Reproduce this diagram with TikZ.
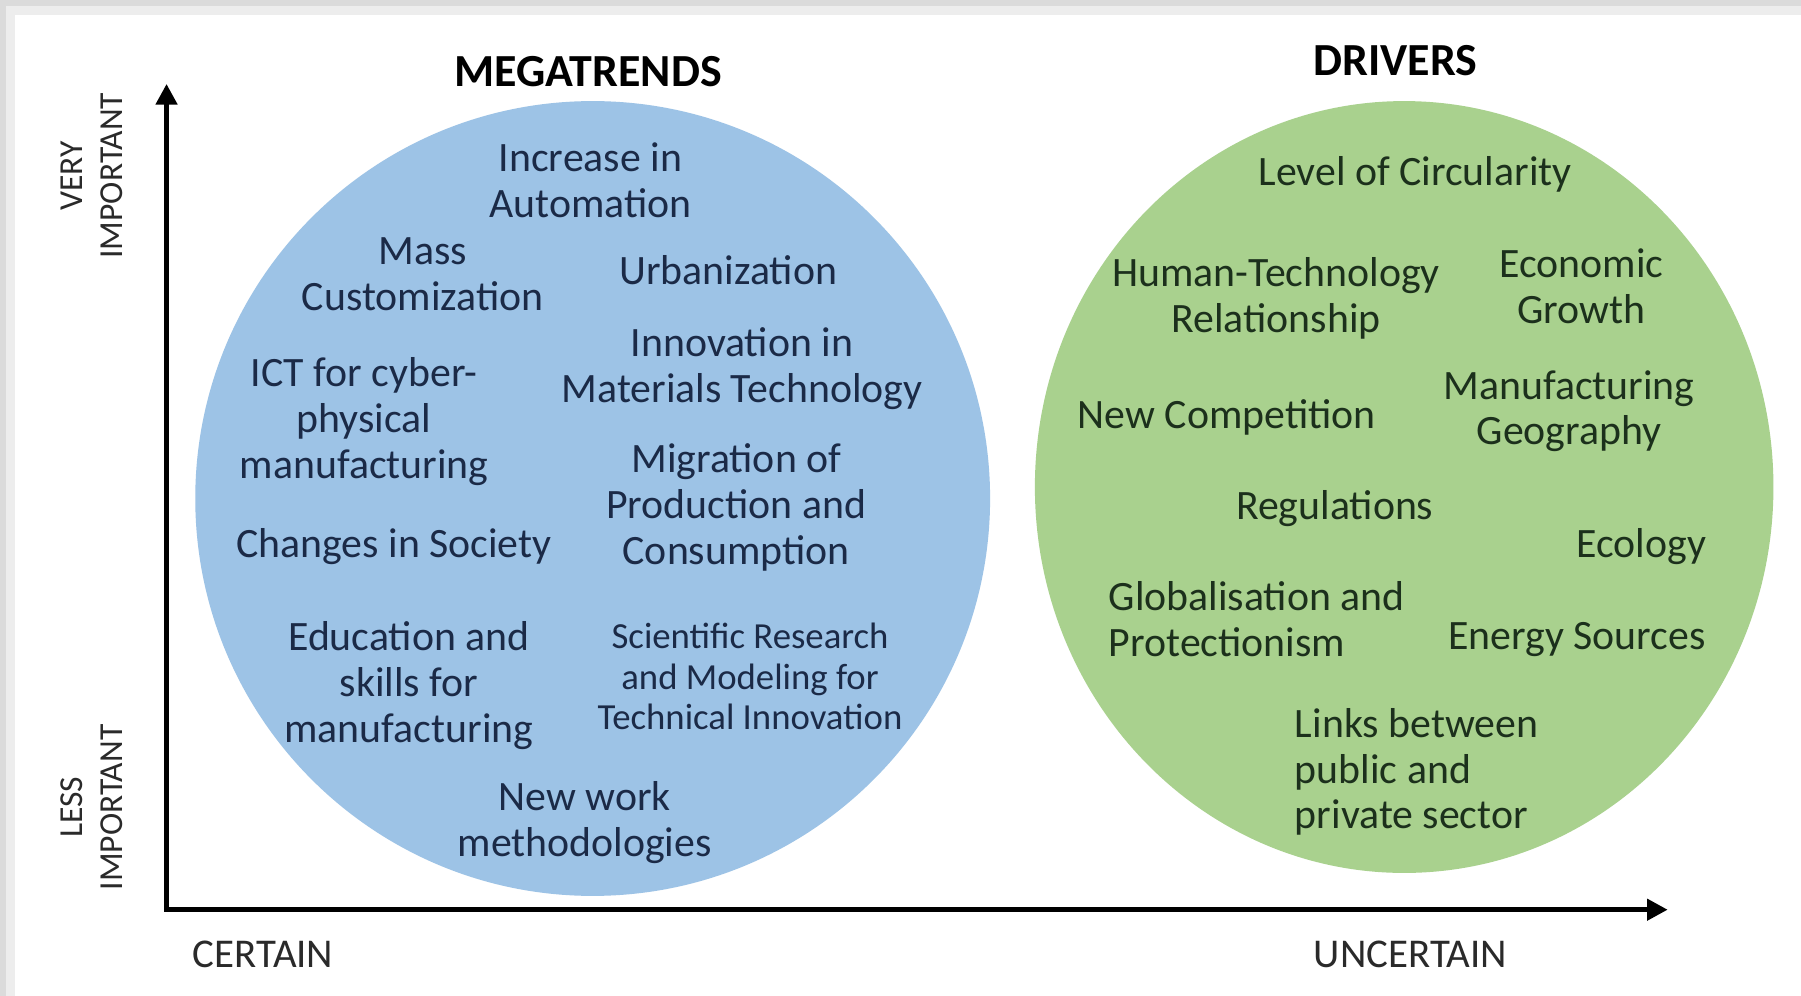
\documentclass[tikz,border=0pt]{standalone}
\usepackage{fontspec}
\setmainfont{Carlito}
\usetikzlibrary{arrows.meta,shapes.geometric}
\definecolor{megablue}{HTML}{9DC3E6}
\definecolor{drivgreen}{HTML}{A9D18E}
\definecolor{megatext}{HTML}{1B2A47}
\definecolor{drivtext}{HTML}{1C301C}
\definecolor{axistext}{HTML}{2A2A2A}
\begin{document}
\begin{tikzpicture}[x=0.5pt,y=-0.5pt,
    trend/.style={align=center,inner sep=0pt,text=megatext,font=\fontsize{18.2}{20}\selectfont},
    trendsmall/.style={trend,font=\fontsize{16}{17.5}\selectfont},
    driver/.style={align=center,inner sep=0pt,text=drivtext,font=\fontsize{18.2}{20}\selectfont},
    title/.style={inner sep=0pt,font=\bfseries\fontsize{20}{24}\selectfont},
    axislab/.style={inner sep=0pt,text=axistext,font=\fontsize{17.8}{20}\selectfont},
    sidelab/.style={inner sep=0pt,align=center,rotate=90,text=axistext,font=\fontsize{14.6}{17.5}\selectfont},
    axisline/.style={line width=2.4pt,{Triangle[length=9pt,width=9pt]}-{Triangle[length=9pt,width=9pt]}}]
    \useasboundingbox (0,0) rectangle (1568,867);
    % card with shadow
    \fill[black!14] (0,0) rectangle (1568,867);
    \fill[black!7] (5,5) rectangle (1568,867);
    \fill[white] (13,13) rectangle (1568,867);

    \node (MC) at (516,434) [circle,fill=megablue,minimum size=346pt,inner sep=0pt]{};
    \node (DC) at (1222.5,424) [ellipse,fill=drivgreen,minimum width=321.5pt,minimum height=336pt,inner sep=0pt]{};

    % axes
    \coordinate (O) at (145,792);
    \coordinate (Ytop) at (145,73);
    \coordinate (Xend) at (1452,792);
    \draw [axisline] (Ytop) -- (O) -- (Xend);

    \node (MT) at (512,62) [title]{MEGATRENDS};
    \node (DT) at (1215,53) [title]{DRIVERS};
    \node (VI) at (80,153) [sidelab]{VERY\\IMPORTANT};
    \node (LI) at (80,703) [sidelab]{LESS\\IMPORTANT};
    \node (CE) at (229,831) [axislab]{CERTAIN};
    \node (UN) at (1228,831) [axislab]{UNCERTAIN};

    % megatrends
    \node (M1) at (514,157) [trend]{Increase in\\Automation};
    \node (M2) at (368,239) [trend]{Mass\\Customization};
    \node (M3) at (634,235) [trend]{Urbanization};
    \node (M4) at (646,321) [trend]{Innovation in\\Materials Technology};
    \node (M5) at (317,367) [trend]{ICT for cyber-\\physical\\manufacturing};
    \node (M6) at (641,442) [trend]{Migration of\\Production and\\Consumption};
    \node (M7) at (343,476) [trend]{Changes in Society};
    \node (M8) at (356,597) [trend]{Education and\\skills for\\manufacturing};
    \node (M9) at (653,589) [trendsmall]{Scientific Research\\and Modeling for\\Technical Innovation};
    \node (M10) at (509,716) [trend]{New work\\methodologies};

    % drivers
    \node (D1) at (1232,152) [driver]{Level of Circularity};
    \node (D2) at (1111,260) [driver]{Human-Technology\\Relationship};
    \node (D3) at (1377,249) [driver]{Economic\\Growth};
    \node (D4) at (1068,363) [driver]{New Competition};
    \node (D5) at (1366,358) [driver]{Manufacturing\\Geography};
    \node (D6) at (1162,443) [driver]{Regulations};
    \node (D7) at (1429,476) [driver]{Ecology};
    \node (D8) at (965,539) [driver,anchor=west,align=left]{Globalisation and\\Protectionism};
    \node (D9) at (1373,557) [driver]{Energy Sources};
    \node (D10) at (1127,672) [driver,anchor=west,align=left]{Links between\\public and\\private sector};
\end{tikzpicture}
\end{document}
